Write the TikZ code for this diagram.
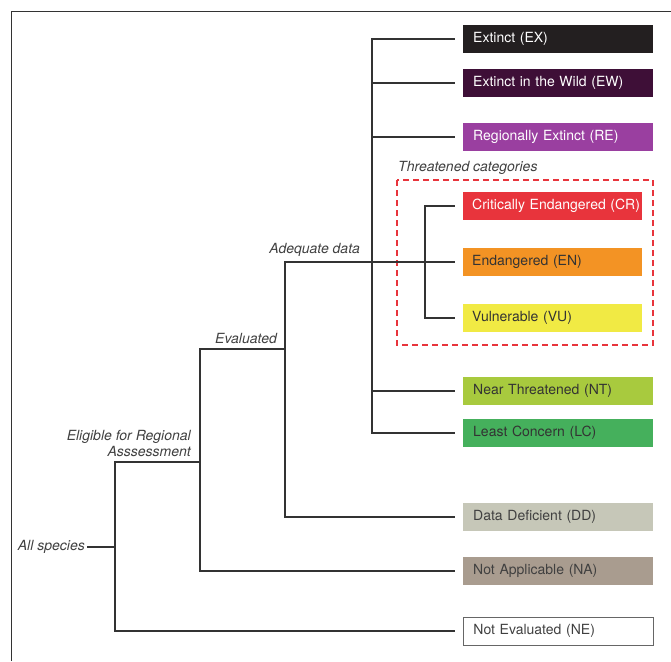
\documentclass[tikz,border=0pt]{standalone}
\usepackage{fontspec}
\setmainfont{TeX Gyre Heros}
\usepackage{tikz}
\definecolor{catEX}{HTML}{231F20}
\definecolor{catEW}{HTML}{3E0F37}
\definecolor{catRE}{HTML}{9A3FA0}
\definecolor{catCR}{HTML}{E8343C}
\definecolor{catEN}{HTML}{F39324}
\definecolor{catVU}{HTML}{F1EA44}
\definecolor{catNT}{HTML}{A8CA3E}
\definecolor{catLC}{HTML}{45B05C}
\definecolor{catDD}{HTML}{C6C7B8}
\definecolor{catNA}{HTML}{A99C8F}
\definecolor{linegray}{HTML}{333333}
\tikzset{
  cat/.style={anchor=west, minimum height=28pt, inner xsep=10pt, inner ysep=0pt,
              text width=170pt, align=left, font=\fontsize{14}{16}\selectfont},   % category box
  thr/.style={cat, text width=161pt, inner xsep=9pt},                           % threatened box
  lbl/.style={font=\fontsize{14}{16}\selectfont\itshape, text=black!75, inner sep=2pt},
  conn/.style={draw=linegray, line width=1.1pt, shorten >=8pt},               % tree connector
  tbox/.style={draw=catCR, line width=2pt, dash pattern=on 6pt off 4pt},
}
\begin{document}
\begin{tikzpicture}[x=1pt,y=-1pt]
  \useasboundingbox (0,0) rectangle (671,661);
  \draw[linegray, line width=1pt] (11,661) -- (11,12) -- (671,12);
  % categories
  \node[cat, fill=catEX, text=white] (ex) at (463,39)  {Extinct (EX)};
  \node[cat, fill=catEW, text=white] (ew) at (463,83)  {Extinct in the Wild (EW)};
  \node[cat, fill=catRE, text=white] (re) at (463,137) {Regionally Extinct (RE)};
  \node[thr, fill=catCR, text=white] (cr) at (463,206) {\makebox[161pt][l]{Critically Endangered (CR)}};
  \node[thr, fill=catEN, text=black!80] (en) at (463,262) {Endangered (EN)};
  \node[thr, fill=catVU, text=black!80] (vu) at (463,318) {Vulnerable (VU)};
  \node[cat, fill=catNT, text=black!80] (nt) at (463,391) {Near Threatened (NT)};
  \node[cat, fill=catLC, text=black!80] (lc) at (463,433) {Least Concern (LC)};
  \node[cat, fill=catDD, text=black!75] (dd) at (463,517) {Data Deficient (DD)};
  \node[cat, fill=catNA, text=black!75] (na) at (463,571) {Not Applicable (NA)};
  \node[cat, draw=black!60, line width=0.8pt, text=black!75] (ne) at (463,631) {Not Evaluated (NE)};
  % threatened group
  \draw[tbox] (397,180) rectangle (653,345);
  \node[lbl, anchor=west] (thrlbl) at (396,168) {Threatened categories};
  % branch points
  \coordinate (root) at (115,547);
  \coordinate (elig) at (200,462);
  \coordinate (eval) at (285,349);
  \coordinate (adeq) at (372,262);
  \coordinate (thrj) at (425,262);
  \node[lbl, anchor=east] (all) at (87,547) {All species};
  \node[lbl, anchor=south east, align=right] (eliglbl) at (193,459) {Eligible for Regional\\Asssessment};
  \node[lbl, anchor=south east] (evallbl) at (279,346) {Evaluated};
  \node[lbl, anchor=south east] (adeqlbl) at (362,259) {Adequate data};
  % tree
  \draw[conn, shorten >=0pt] (all) -- (root);
  \draw[conn] (root) |- (ne.west);
  \draw[conn, shorten >=0pt] (root) |- (elig);
  \draw[conn] (elig) |- (na.west);
  \draw[conn, shorten >=0pt] (elig) |- (eval);
  \draw[conn] (eval) |- (dd.west);
  \draw[conn, shorten >=0pt] (eval) |- (adeq);
  \foreach \c in {ex,ew,re,nt,lc} \draw[conn] (adeq) |- (\c.west);
  \draw[conn, shorten >=0pt] (adeq) -- (thrj);
  \foreach \c in {cr,en,vu} \draw[conn] (thrj) |- (\c.west);
\end{tikzpicture}
\end{document}
